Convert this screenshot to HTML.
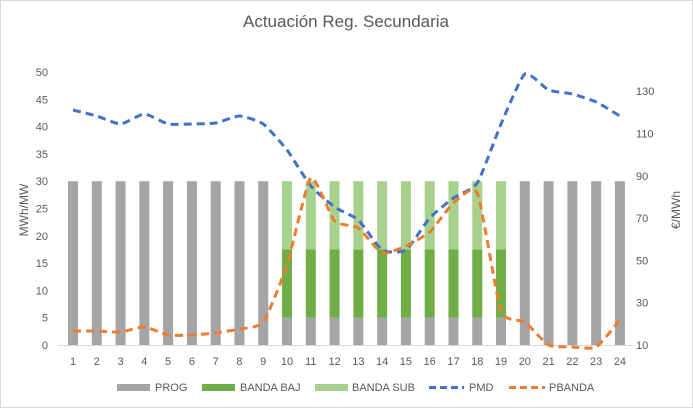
<!DOCTYPE html><html><head><meta charset="utf-8"><style>
body{margin:0;background:#fff}
svg{display:block;font-family:"Liberation Sans",sans-serif}
</style></head><body>
<svg id="s" width="693" height="408" xmlns="http://www.w3.org/2000/svg">
<rect x="0.5" y="0.5" width="692" height="407" fill="#fff" stroke="#d9d9d9"/>
<text x="346" y="27" font-size="17" fill="#595959" text-anchor="middle">Actuación Reg. Secundaria</text>
<g id="g"></g>
<text transform="translate(28,210) rotate(-90)" font-size="12" fill="#595959" text-anchor="middle">MWh/MW</text>
<text transform="translate(680,210) rotate(-90)" font-size="12" fill="#595959" text-anchor="middle">€/MWh</text>
<g font-size="11" fill="#595959">
<rect x="117" y="384" width="33" height="7" fill="#a5a5a5"/><text x="155" y="391">PROG</text>
<rect x="202" y="384" width="33" height="7" fill="#70ad47"/><text x="240" y="391">BANDA BAJ</text>
<rect x="315" y="384" width="33" height="7" fill="#a9d18e"/><text x="352" y="391">BANDA SUB</text>
<line x1="429" y1="387.5" x2="464" y2="387.5" stroke="#4472c4" stroke-width="3" stroke-dasharray="7,4"/><text x="469" y="391">PMD</text>
<line x1="509" y1="387.5" x2="545" y2="387.5" stroke="#ed7d31" stroke-width="3" stroke-dasharray="7,4"/><text x="549" y="391">PBANDA</text>
</g>
</svg>
<script>
var g=document.getElementById('g'),h='';
var X=i=>73+(i-1)*23.78, Y=v=>345-v*5.46, R=v=>345-(v-10)*2.115;
for(var v=0;v<=50;v+=5)h+='<text x="48" y="'+(Y(v)+4)+'" font-size="11" fill="#595959" text-anchor="end">'+v+'</text>';
for(var v=10;v<=130;v+=20)h+='<text x="636" y="'+(R(v)+4)+'" font-size="11" fill="#595959">'+v+'</text>';
h+='<line x1="58" y1="345.5" x2="632" y2="345.5" stroke="#d9d9d9"/>';
for(var i=1;i<=24;i++){var x=X(i)-5;
 if(i>=10&&i<=19){h+='<rect x="'+x+'" y="'+Y(5)+'" width="10" height="'+(Y(0)-Y(5))+'" fill="#a5a5a5"/>';
 h+='<rect x="'+x+'" y="'+Y(17.5)+'" width="10" height="'+(Y(5)-Y(17.5))+'" fill="#70ad47"/>';
 h+='<rect x="'+x+'" y="'+Y(30)+'" width="10" height="'+(Y(17.5)-Y(30))+'" fill="#a9d18e"/>';}
 else h+='<rect x="'+x+'" y="'+Y(30)+'" width="10" height="'+(Y(0)-Y(30))+'" fill="#a5a5a5"/>';
 h+='<text x="'+X(i)+'" y="365" font-size="11" fill="#595959" text-anchor="middle">'+i+'</text>';}
function path(ys){var t=11;var p=ys.map((y,k)=>[X(k+1),y]);var d='M'+p[0];
 for(var k=0;k<p.length-1;k++){var a=p[k-1]||p[k],b=p[k],c=p[k+1],e=p[k+2]||c;
 d+='C'+(b[0]+(c[0]-a[0])/t)+','+(b[1]+(c[1]-a[1])/t)+' '+(c[0]-(e[0]-b[0])/t)+','+(c[1]-(e[1]-b[1])/t)+' '+c;}return d;}
var pmd=[110,116,124,114,124,124,123,116,124,150,186,207,220,250,250,218,198,183,124,74,90,94,102,116];
var pb=[331,331,332,327,335,335,333,329,322,265,178,221,228,253,246,232,203,193,311,322,345,347,347,320];
h+='<path d="'+path(pmd)+'" fill="none" stroke="#4472c4" stroke-width="3" stroke-dasharray="8,5"/>';
h+='<path d="'+path(pb)+'" fill="none" stroke="#ed7d31" stroke-width="3" stroke-dasharray="8,5"/>';
g.innerHTML=h;
</script>
</body></html>
